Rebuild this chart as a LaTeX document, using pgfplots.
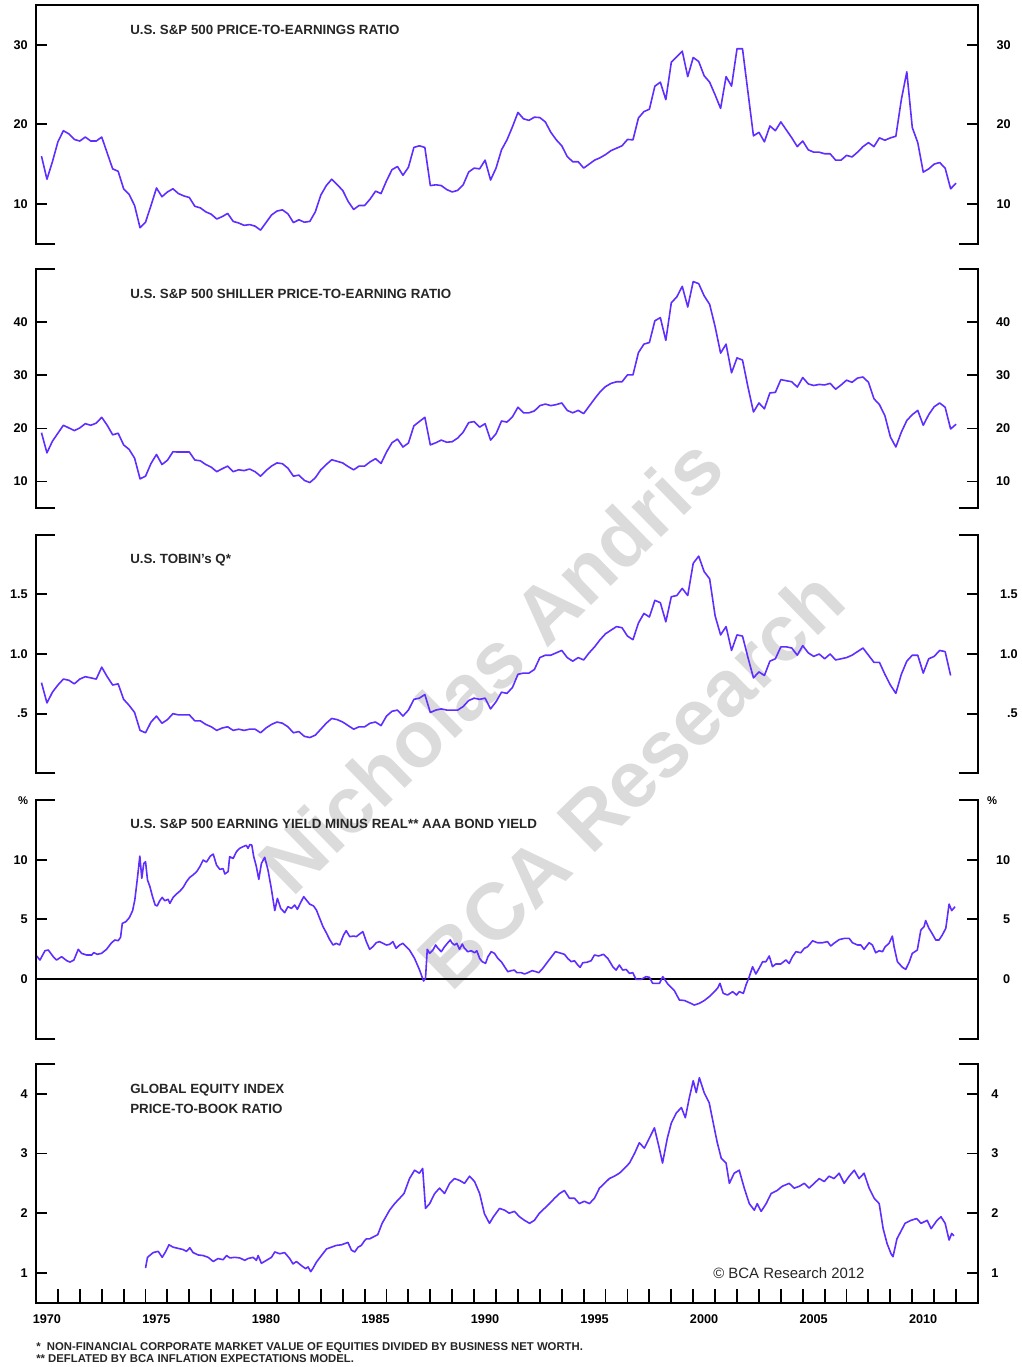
\documentclass[border=0pt]{standalone}
\usepackage{pgfplots}
\pgfplotsset{compat=1.18}
\usepackage{pgfplotstable}
\usepackage{fontspec}
\setmainfont{Liberation Sans}
\definecolor{ln}{RGB}{95,45,255}

\pgfplotstableread{
x y
1970.25 16.0
1970.5 13.1
1970.75 15.3
1971.0 17.8
1971.25 19.2
1971.5 18.8
1971.75 18.1
1972.0 17.9
1972.25 18.4
1972.5 17.9
1972.75 17.9
1973.0 18.4
1973.25 16.4
1973.5 14.4
1973.75 14.1
1974.0 11.9
1974.25 11.2
1974.5 9.8
1974.75 7.0
1975.0 7.7
1975.25 9.8
1975.5 12.0
1975.75 10.9
1976.0 11.5
1976.25 11.9
1976.5 11.3
1976.75 11.0
1977.0 10.8
1977.25 9.7
1977.5 9.5
1977.75 9.0
1978.0 8.7
1978.25 8.1
1978.5 8.4
1978.75 8.8
1979.0 7.8
1979.25 7.6
1979.5 7.3
1979.75 7.4
1980.0 7.2
1980.25 6.7
1980.5 7.65
1980.75 8.6
1981.0 9.1
1981.25 9.25
1981.5 8.75
1981.75 7.65
1982.0 8.0
1982.25 7.7
1982.5 7.8
1982.75 9.0
1983.0 11.1
1983.25 12.3
1983.5 13.1
1983.75 12.4
1984.0 11.7
1984.25 10.3
1984.5 9.3
1984.75 9.8
1985.0 9.8
1985.25 10.6
1985.5 11.6
1985.75 11.3
1986.0 12.9
1986.25 14.3
1986.5 14.7
1986.75 13.6
1987.0 14.6
1987.25 17.1
1987.5 17.3
1987.75 17.1
1988.0 12.3
1988.25 12.4
1988.5 12.3
1988.75 11.8
1989.0 11.5
1989.25 11.7
1989.5 12.4
1989.75 14.0
1990.0 14.5
1990.25 14.4
1990.5 15.5
1990.75 13.0
1991.0 14.5
1991.25 16.8
1991.5 18.05
1991.75 19.7
1992.0 21.5
1992.25 20.7
1992.5 20.5
1992.75 20.9
1993.0 20.85
1993.25 20.3
1993.5 19.0
1993.75 18.05
1994.0 17.3
1994.25 15.95
1994.5 15.3
1994.75 15.3
1995.0 14.5
1995.25 15.0
1995.5 15.5
1995.75 15.8
1996.0 16.2
1996.25 16.7
1996.5 17.0
1996.75 17.3
1997.0 18.1
1997.25 18.05
1997.5 20.8
1997.75 21.6
1998.0 21.9
1998.25 24.8
1998.5 25.3
1998.75 23.1
1999.0 27.8
1999.25 28.5
1999.5 29.2
1999.75 26.0
2000.0 28.4
2000.25 27.9
2000.5 26.1
2000.75 25.3
2001.0 23.7
2001.25 22.0
2001.5 26.0
2001.75 24.8
2002.0 29.5
2002.25 29.5
2002.75 18.55
2003.0 19.0
2003.25 17.8
2003.5 19.8
2003.75 19.2
2004.0 20.3
2004.25 19.3
2004.5 18.3
2004.75 17.2
2005.0 17.9
2005.25 16.8
2005.5 16.5
2005.75 16.5
2006.0 16.3
2006.25 16.3
2006.5 15.5
2006.75 15.5
2007.0 16.1
2007.25 15.9
2007.5 16.5
2007.75 17.2
2008.0 17.7
2008.25 17.2
2008.5 18.3
2008.75 18.0
2009.0 18.3
2009.25 18.5
2009.5 23.1
2009.75 26.6
2010.0 19.6
2010.25 17.7
2010.5 14.0
2010.75 14.4
2011.0 15.0
2011.25 15.2
2011.5 14.5
2011.75 11.9
2012.0 12.6
}\pe

\pgfplotstableread{
x y
1970.25 19.2
1970.5 15.4
1970.75 17.6
1971.0 19.1
1971.25 20.6
1971.5 20.1
1971.75 19.6
1972.0 20.1
1972.25 20.9
1972.5 20.6
1972.75 21.0
1973.0 22.1
1973.25 20.6
1973.5 18.8
1973.75 19.1
1974.0 16.9
1974.25 16.05
1974.5 14.4
1974.75 10.5
1975.0 11.0
1975.25 13.4
1975.5 15.1
1975.75 13.2
1976.0 14.0
1976.25 15.6
1976.5 15.55
1976.75 15.55
1977.0 15.55
1977.25 14.05
1977.5 13.9
1977.75 13.2
1978.0 12.7
1978.25 11.85
1978.5 12.4
1978.75 12.9
1979.0 11.85
1979.25 12.2
1979.5 12.05
1979.75 12.35
1980.0 11.85
1980.25 11.0
1980.5 12.05
1980.75 12.9
1981.0 13.5
1981.25 13.35
1981.5 12.5
1981.75 11.0
1982.0 11.2
1982.25 10.2
1982.5 9.8
1982.75 10.7
1983.0 12.2
1983.25 13.2
1983.5 14.1
1983.75 13.8
1984.0 13.5
1984.25 12.8
1984.5 12.2
1984.75 12.9
1985.0 12.9
1985.25 13.7
1985.5 14.3
1985.75 13.4
1986.0 15.55
1986.25 17.3
1986.5 18.0
1986.75 16.5
1987.0 17.25
1987.25 20.5
1987.5 21.3
1987.75 22.1
1988.0 16.9
1988.25 17.3
1988.5 17.8
1988.75 17.4
1989.0 17.5
1989.25 18.2
1989.5 19.3
1989.75 21.1
1990.0 21.3
1990.25 20.25
1990.5 20.9
1990.75 17.8
1991.0 19.0
1991.25 21.4
1991.5 21.2
1991.75 22.2
1992.0 24.0
1992.25 22.95
1992.5 22.95
1992.75 23.3
1993.0 24.3
1993.25 24.6
1993.5 24.3
1993.75 24.5
1994.0 24.8
1994.25 23.4
1994.5 22.95
1994.75 23.4
1995.0 22.8
1995.25 24.2
1995.5 25.6
1995.75 26.9
1996.0 27.9
1996.25 28.5
1996.5 28.8
1996.75 28.8
1997.0 30.1
1997.25 30.1
1997.5 34.3
1997.75 35.9
1998.0 36.2
1998.25 40.3
1998.5 40.9
1998.75 36.6
1999.0 43.7
1999.25 44.8
1999.5 46.8
1999.75 42.9
2000.0 47.7
2000.25 47.3
2000.5 45.0
2000.75 43.4
2001.0 39.2
2001.25 34.2
2001.5 35.9
2001.75 30.5
2002.0 33.3
2002.25 32.9
2002.5 27.8
2002.75 23.1
2003.0 24.8
2003.25 23.7
2003.5 26.7
2003.75 26.8
2004.0 29.2
2004.25 29.0
2004.5 28.8
2004.75 27.8
2005.0 29.6
2005.25 28.4
2005.5 28.1
2005.75 28.3
2006.0 28.2
2006.25 28.5
2006.5 27.4
2006.75 28.2
2007.0 29.1
2007.25 28.7
2007.5 29.5
2007.75 29.7
2008.0 28.7
2008.25 25.6
2008.5 24.5
2008.75 22.4
2009.0 18.4
2009.25 16.5
2009.5 19.3
2009.75 21.5
2010.0 22.6
2010.25 23.4
2010.5 20.6
2010.75 22.6
2011.0 24.1
2011.25 24.8
2011.5 24.0
2011.75 19.9
2012.0 20.8
}\shiller

\pgfplotstableread{
x y
1970.25 0.76
1970.5 0.59
1970.75 0.68
1971.0 0.74
1971.25 0.79
1971.5 0.78
1971.75 0.75
1972.0 0.79
1972.25 0.81
1972.5 0.80
1972.75 0.79
1973.0 0.89
1973.25 0.81
1973.5 0.74
1973.75 0.75
1974.0 0.62
1974.25 0.57
1974.5 0.51
1974.75 0.36
1975.0 0.34
1975.25 0.43
1975.5 0.48
1975.75 0.42
1976.0 0.45
1976.25 0.50
1976.5 0.49
1976.75 0.49
1977.0 0.49
1977.25 0.44
1977.5 0.44
1977.75 0.41
1978.0 0.39
1978.25 0.36
1978.5 0.38
1978.75 0.39
1979.0 0.36
1979.25 0.37
1979.5 0.36
1979.75 0.37
1980.0 0.37
1980.25 0.34
1980.5 0.38
1980.75 0.41
1981.0 0.43
1981.25 0.42
1981.5 0.39
1981.75 0.34
1982.0 0.35
1982.25 0.31
1982.5 0.30
1982.75 0.32
1983.0 0.37
1983.25 0.42
1983.5 0.46
1983.75 0.45
1984.0 0.43
1984.25 0.40
1984.5 0.37
1984.75 0.39
1985.0 0.39
1985.25 0.42
1985.5 0.43
1985.75 0.40
1986.0 0.48
1986.25 0.52
1986.5 0.53
1986.75 0.48
1987.0 0.53
1987.25 0.62
1987.5 0.63
1987.75 0.66
1988.0 0.51
1988.25 0.53
1988.5 0.54
1988.75 0.53
1989.0 0.53
1989.25 0.53
1989.5 0.56
1989.75 0.61
1990.0 0.63
1990.25 0.62
1990.5 0.63
1990.75 0.54
1991.0 0.60
1991.25 0.68
1991.5 0.67
1991.75 0.72
1992.0 0.83
1992.25 0.84
1992.5 0.84
1992.75 0.87
1993.0 0.97
1993.25 0.99
1993.5 0.99
1993.75 1.01
1994.0 1.03
1994.25 0.97
1994.5 0.94
1994.75 0.97
1995.0 0.95
1995.25 1.01
1995.5 1.06
1995.75 1.12
1996.0 1.17
1996.25 1.20
1996.5 1.23
1996.75 1.22
1997.0 1.15
1997.25 1.12
1997.5 1.26
1997.75 1.34
1998.0 1.31
1998.25 1.45
1998.5 1.43
1998.75 1.27
1999.0 1.48
1999.25 1.49
1999.5 1.55
1999.75 1.49
2000.0 1.76
2000.25 1.82
2000.5 1.69
2000.75 1.63
2001.0 1.32
2001.25 1.16
2001.5 1.23
2001.75 1.03
2002.0 1.16
2002.25 1.15
2002.5 0.97
2002.75 0.80
2003.0 0.85
2003.25 0.82
2003.5 0.94
2003.75 0.96
2004.0 1.06
2004.25 1.06
2004.5 1.05
2004.75 0.99
2005.0 1.07
2005.25 1.01
2005.5 0.98
2005.75 1.00
2006.0 0.96
2006.25 1.00
2006.5 0.95
2006.75 0.96
2007.0 0.97
2007.25 0.99
2007.5 1.02
2007.75 1.05
2008.0 0.99
2008.25 0.93
2008.5 0.93
2008.75 0.83
2009.0 0.74
2009.25 0.67
2009.5 0.83
2009.75 0.94
2010.0 0.99
2010.25 0.99
2010.5 0.84
2010.75 0.96
2011.0 0.98
2011.25 1.03
2011.5 1.02
2011.75 0.82
}\tobin

\pgfplotstableread{
x y
1970.03 1.93
1970.18 1.59
1970.41 2.37
1970.56 2.43
1970.79 1.87
1970.94 1.59
1971.17 1.87
1971.40 1.54
1971.55 1.42
1971.73 1.59
1971.93 2.49
1972.08 2.15
1972.31 2.01
1972.54 2.01
1972.64 2.21
1972.80 2.07
1972.99 2.15
1973.22 2.49
1973.45 3.04
1973.60 3.27
1973.75 3.21
1973.86 3.49
1973.94 4.66
1974.10 4.80
1974.26 5.14
1974.41 5.73
1974.51 6.62
1974.62 8.30
1974.74 10.30
1974.83 8.44
1974.92 9.69
1975.00 9.83
1975.09 8.30
1975.20 7.74
1975.32 6.90
1975.44 6.20
1975.53 6.12
1975.65 6.56
1975.76 6.84
1975.88 6.56
1976.03 6.68
1976.11 6.34
1976.26 6.84
1976.41 7.12
1976.57 7.37
1976.72 7.68
1976.87 8.16
1977.02 8.52
1977.17 8.72
1977.33 8.99
1977.48 9.41
1977.63 9.97
1977.78 9.80
1977.96 10.30
1978.09 10.47
1978.24 9.55
1978.39 9.19
1978.54 9.25
1978.62 8.80
1978.77 9.00
1978.84 10.25
1979.00 10.10
1979.15 10.67
1979.30 10.95
1979.45 11.09
1979.60 11.20
1979.68 10.95
1979.76 11.26
1979.85 11.23
1979.94 10.25
1980.06 9.41
1980.17 8.35
1980.29 9.69
1980.44 10.20
1980.59 9.13
1980.74 7.60
1980.90 5.73
1981.02 6.76
1981.17 5.92
1981.35 5.56
1981.50 6.06
1981.66 5.92
1981.81 6.20
1981.93 5.84
1982.08 6.40
1982.22 6.90
1982.34 6.62
1982.49 6.28
1982.67 6.12
1982.80 5.78
1982.95 5.08
1983.10 4.39
1983.25 3.88
1983.40 3.32
1983.56 2.85
1983.71 2.99
1983.86 2.85
1984.04 3.69
1984.16 4.05
1984.32 3.55
1984.50 3.60
1984.62 3.55
1984.77 3.77
1984.92 3.97
1985.08 3.13
1985.23 2.49
1985.38 2.71
1985.53 3.04
1985.68 3.13
1985.84 2.99
1985.99 2.85
1986.14 2.90
1986.29 3.13
1986.44 2.57
1986.60 2.85
1986.75 2.99
1986.90 2.71
1987.05 2.43
1987.28 1.73
1987.51 0.75
1987.69 -0.17
1987.78 0.06
1987.86 2.49
1987.97 2.15
1988.12 2.43
1988.24 2.85
1988.35 2.57
1988.50 2.29
1988.65 2.71
1988.80 3.04
1988.91 3.27
1989.00 2.99
1989.11 2.85
1989.21 2.99
1989.33 2.49
1989.46 2.93
1989.56 2.57
1989.71 2.29
1989.87 2.37
1990.02 2.20
1990.12 2.37
1990.25 1.73
1990.37 1.45
1990.52 1.31
1990.63 1.87
1990.78 2.29
1990.93 2.15
1991.08 1.73
1991.24 1.45
1991.39 1.03
1991.54 0.61
1991.69 0.70
1991.84 0.75
1991.95 0.53
1992.15 0.53
1992.30 0.42
1992.45 0.53
1992.65 0.70
1992.83 0.61
1992.95 0.53
1993.13 0.89
1993.36 1.45
1993.56 1.93
1993.71 2.29
1993.89 2.20
1994.12 2.07
1994.27 1.73
1994.43 1.45
1994.58 1.53
1994.73 1.17
1994.84 0.98
1994.96 1.37
1995.14 1.40
1995.34 1.53
1995.49 2.01
1995.69 1.93
1995.90 2.07
1996.10 1.73
1996.33 1.03
1996.48 0.75
1996.63 1.17
1996.78 0.75
1996.94 0.80
1997.09 0.47
1997.24 0.53
1997.39 -0.03
1997.62 -0.03
1997.85 0.20
1998.00 0.14
1998.15 -0.36
1998.46 -0.36
1998.61 0.20
1998.84 -0.42
1999.14 -0.98
1999.37 -1.76
1999.60 -1.80
1999.82 -1.98
2000.05 -2.18
2000.28 -2.04
2000.51 -1.80
2000.73 -1.48
2000.96 -1.06
2001.11 -0.78
2001.22 -0.36
2001.37 -1.20
2001.57 -1.34
2001.80 -1.06
2001.98 -1.34
2002.10 -1.06
2002.29 -1.20
2002.41 -0.50
2002.56 0.20
2002.71 1.03
2002.86 0.42
2003.01 0.90
2003.17 1.45
2003.32 1.45
2003.47 1.93
2003.62 1.03
2003.77 1.26
2004.00 1.26
2004.23 1.60
2004.38 1.30
2004.53 1.87
2004.69 2.29
2004.91 2.20
2005.07 2.57
2005.22 2.70
2005.45 3.20
2005.67 3.04
2005.90 3.04
2006.13 3.13
2006.28 2.77
2006.43 3.00
2006.66 3.30
2006.89 3.40
2007.12 3.40
2007.27 3.04
2007.50 2.85
2007.65 2.85
2007.80 2.49
2008.03 3.04
2008.18 2.85
2008.33 2.20
2008.49 2.37
2008.64 2.29
2008.76 2.70
2008.94 2.99
2009.09 3.60
2009.17 2.70
2009.32 1.45
2009.55 0.98
2009.70 0.81
2009.85 1.37
2010.00 2.15
2010.23 2.43
2010.39 4.10
2010.54 4.40
2010.61 4.90
2010.76 4.25
2010.92 3.77
2011.07 3.27
2011.22 3.27
2011.37 3.69
2011.53 4.25
2011.68 6.28
2011.80 5.73
2011.95 6.06
}\ey

\pgfplotstableread{
x y
1975.00 1.08
1975.09 1.26
1975.35 1.34
1975.58 1.36
1975.76 1.26
1975.91 1.35
1976.07 1.47
1976.26 1.43
1976.49 1.41
1976.72 1.39
1976.87 1.36
1977.02 1.42
1977.17 1.34
1977.40 1.30
1977.63 1.29
1977.86 1.26
1978.09 1.19
1978.31 1.24
1978.54 1.22
1978.70 1.29
1978.85 1.25
1979.07 1.26
1979.30 1.25
1979.53 1.21
1979.68 1.24
1979.91 1.26
1980.06 1.21
1980.14 1.29
1980.29 1.16
1980.52 1.21
1980.75 1.26
1980.90 1.35
1981.13 1.32
1981.35 1.34
1981.58 1.24
1981.73 1.15
1981.89 1.19
1982.12 1.12
1982.31 1.07
1982.42 1.10
1982.54 1.02
1982.65 1.08
1982.80 1.18
1983.03 1.29
1983.26 1.40
1983.48 1.43
1983.71 1.46
1983.94 1.47
1984.09 1.49
1984.24 1.51
1984.40 1.38
1984.55 1.35
1984.70 1.43
1984.85 1.46
1985.00 1.54
1985.08 1.57
1985.23 1.57
1985.60 1.64
1985.80 1.83
1986.14 2.05
1986.37 2.16
1986.60 2.25
1986.80 2.33
1987.05 2.58
1987.28 2.72
1987.50 2.67
1987.65 2.75
1987.78 2.08
1987.97 2.16
1988.20 2.33
1988.42 2.42
1988.65 2.33
1988.88 2.50
1989.10 2.58
1989.33 2.55
1989.56 2.50
1989.79 2.62
1990.02 2.53
1990.25 2.33
1990.47 1.99
1990.70 1.83
1990.88 1.94
1991.16 2.08
1991.39 2.05
1991.60 2.00
1991.84 2.03
1992.07 1.94
1992.30 1.88
1992.53 1.83
1992.75 1.88
1992.98 2.00
1993.21 2.08
1993.44 2.16
1993.67 2.25
1993.90 2.33
1994.12 2.38
1994.35 2.25
1994.58 2.25
1994.80 2.16
1995.03 2.20
1995.26 2.16
1995.49 2.25
1995.72 2.42
1995.95 2.50
1996.17 2.58
1996.40 2.62
1996.63 2.67
1996.86 2.75
1997.09 2.84
1997.32 3.00
1997.54 3.18
1997.77 3.09
1998.00 3.26
1998.23 3.43
1998.45 3.09
1998.60 2.84
1998.82 3.26
1999.00 3.51
1999.23 3.68
1999.46 3.77
1999.64 3.60
1999.82 3.93
2000.00 4.22
2000.14 4.02
2000.28 4.27
2000.50 4.02
2000.73 3.85
2000.96 3.43
2001.10 3.18
2001.28 2.92
2001.50 2.84
2001.65 2.50
2001.87 2.67
2002.10 2.72
2002.33 2.42
2002.56 2.16
2002.79 2.05
2002.92 2.16
2003.10 2.03
2003.33 2.16
2003.56 2.33
2003.83 2.38
2004.06 2.45
2004.38 2.50
2004.61 2.42
2004.84 2.45
2005.07 2.50
2005.29 2.42
2005.52 2.50
2005.75 2.58
2005.98 2.53
2006.20 2.62
2006.43 2.58
2006.66 2.67
2006.89 2.50
2007.12 2.62
2007.35 2.72
2007.57 2.58
2007.80 2.67
2008.03 2.42
2008.26 2.25
2008.49 2.16
2008.67 1.74
2008.85 1.49
2009.03 1.32
2009.12 1.27
2009.30 1.57
2009.50 1.71
2009.67 1.83
2009.94 1.88
2010.20 1.91
2010.40 1.83
2010.68 1.88
2010.86 1.74
2011.13 1.88
2011.31 1.94
2011.50 1.83
2011.68 1.55
2011.80 1.66
2011.90 1.62
}\pb

\tikzset{
  frm/.style={line width=1.4pt, black, line join=miter},
  ttl/.style={anchor=base west, inner sep=0pt, font=\fontsize{10}{11}\selectfont\bfseries, text=black!85},
}
\pgfplotsset{
  panel/.style={
    scale only axis, width=706.5pt, height=179pt,
    xmin=1970, xmax=2013,
    axis line style={draw=none},
    xtick=\empty,
    tick align=inside,
    major tick length=8pt,
    tick style={line width=1.4pt, black},
    clip=false,
    anchor=north west,
    yticklabel style={font=\fontsize{9.5}{11}\selectfont\bfseries, inner sep=0pt},
  },
  leftax/.style={panel, ytick pos=left, yticklabel pos=left,
    yticklabel style={anchor=east, xshift=-6pt}},
  rightax/.style={panel, ytick pos=right, yticklabel pos=right,
    yticklabel style={anchor=east, xshift=#1}},
  ser/.style={color=ln, line width=1.2pt, no markers, line join=round},
}

\begin{document}
\begin{tikzpicture}
\useasboundingbox (0,0) rectangle (765.75pt,-1025.25pt);

% watermark
\node[rotate=44.3, text=black!14, font=\fontsize{60}{60}\selectfont\bfseries] at (367.5pt,-498.75pt) {Nicholas Andris};
\node[rotate=44.3, text=black!14, font=\fontsize{60}{60}\selectfont\bfseries] at (473pt,-584pt) {BCA Research};

% ---------- Panel 1
\begin{axis}[leftax, at={(27pt,-3.75pt)}, ymin=5, ymax=35, ytick={10,20,30}, yticklabels={10,20,30}]
\addplot[ser] table {\pe};
\draw[frm] ([xshift=14.5pt]rel axis cs:0,0) -- (rel axis cs:0,0) -- (rel axis cs:0,1) -- (rel axis cs:1,1) -- (rel axis cs:1,0) -- ([xshift=-14.5pt]rel axis cs:1,0);
\node[ttl] at ([xshift=70.5pt,yshift=-21.75pt]rel axis cs:0,1) {U.S. S\&P 500 PRICE-TO-EARNINGS RATIO};
\end{axis}
\begin{axis}[rightax=24.75pt, at={(27pt,-3.75pt)}, ymin=5, ymax=35, ytick={10,20,30}, yticklabels={10,20,30}]
\end{axis}

% ---------- Panel 2
\begin{axis}[leftax, at={(27pt,-202pt)}, ymin=5, ymax=50, ytick={10,20,30,40}, yticklabels={10,20,30,40}]
\addplot[ser] table {\shiller};
\draw[frm] ([xshift=14.5pt]rel axis cs:0,0) -- (rel axis cs:0,0) -- (rel axis cs:0,1) -- ([xshift=14.5pt]rel axis cs:0,1);
\draw[frm] ([xshift=-14.5pt]rel axis cs:1,0) -- (rel axis cs:1,0) -- (rel axis cs:1,1) -- ([xshift=-14.5pt]rel axis cs:1,1);
\node[ttl] at ([xshift=70.5pt,yshift=-21.75pt]rel axis cs:0,1) {U.S. S\&P 500 SHILLER PRICE-TO-EARNING RATIO};
\end{axis}
\begin{axis}[rightax=24.4pt, at={(27pt,-202pt)}, ymin=5, ymax=50, ytick={10,20,30,40}, yticklabels={10,20,30,40}]
\end{axis}

% ---------- Panel 3
\begin{axis}[leftax, at={(27pt,-401pt)}, ymin=0, ymax=2, ytick={0.5,1,1.5}, yticklabels={.5,1.0,1.5}]
\addplot[ser] table {\tobin};
\draw[frm] ([xshift=14.5pt]rel axis cs:0,0) -- (rel axis cs:0,0) -- (rel axis cs:0,1) -- ([xshift=14.5pt]rel axis cs:0,1);
\draw[frm] ([xshift=-14.5pt]rel axis cs:1,0) -- (rel axis cs:1,0) -- (rel axis cs:1,1) -- ([xshift=-14.5pt]rel axis cs:1,1);
\node[ttl] at ([xshift=70.5pt,yshift=-21.75pt]rel axis cs:0,1) {U.S. TOBIN's Q*};
\end{axis}
\begin{axis}[rightax=30pt, at={(27pt,-401pt)}, ymin=0, ymax=2, ytick={0.5,1,1.5}, yticklabels={.5,1.0,1.5}]
\end{axis}

% ---------- Panel 4
\begin{axis}[leftax, at={(27pt,-600pt)}, ymin=-5, ymax=15, ytick={0,5,10}, yticklabels={0,5,10}]
\draw[line width=1.2pt, black] (axis cs:1970,0) -- (axis cs:2013,0);
\addplot[ser] table {\ey};
\draw[frm] ([xshift=14.5pt]rel axis cs:0,0) -- (rel axis cs:0,0) -- (rel axis cs:0,1) -- ([xshift=14.5pt]rel axis cs:0,1);
\draw[frm] ([xshift=-14.5pt]rel axis cs:1,0) -- (rel axis cs:1,0) -- (rel axis cs:1,1) -- ([xshift=-14.5pt]rel axis cs:1,1);
\node[ttl] at ([xshift=70.5pt,yshift=-21pt]rel axis cs:0,1) {U.S. S\&P 500 EARNING YIELD MINUS REAL** AAA BOND YIELD};
\node[font=\fontsize{8.4}{9}\selectfont\bfseries] at ([xshift=-9.75pt,yshift=-0.75pt]rel axis cs:0,1) {\%};
\node[font=\fontsize{8.4}{9}\selectfont\bfseries] at ([xshift=10.5pt,yshift=-0.75pt]rel axis cs:1,1) {\%};
\end{axis}
\begin{axis}[rightax=24.4pt, at={(27pt,-600pt)}, ymin=-5, ymax=15, ytick={0,5,10}, yticklabels={0,5,10}]
\end{axis}

% ---------- Panel 5
\begin{axis}[leftax, at={(27pt,-798pt)}, ymin=0.5, ymax=4.5, ytick={1,2,3,4}, yticklabels={1,2,3,4},
  xtick={1970,...,2012},
  xticklabels={1970,,,,,1975,,,,,1980,,,,,1985,,,,,1990,,,,,1995,,,,,2000,,,,,2005,,,,,2010,,},
  xtick pos=bottom, xticklabel pos=bottom,
  xtick style={/pgfplots/major tick length=10pt},
  xticklabel style={font=\fontsize{9.5}{11}\selectfont\bfseries, inner sep=0pt, anchor=north, xshift=8.2pt, yshift=-9pt}]
\addplot[ser] table {\pb};
\draw[frm] ([xshift=14.5pt]rel axis cs:0,1) -- (rel axis cs:0,1) -- (rel axis cs:0,0) -- (rel axis cs:1,0) -- (rel axis cs:1,1) -- ([xshift=-14.5pt]rel axis cs:1,1);
\node[ttl] at ([xshift=70.5pt,yshift=-21.75pt]rel axis cs:0,1) {GLOBAL EQUITY INDEX};
\node[ttl] at ([xshift=70.5pt,yshift=-36.75pt]rel axis cs:0,1) {PRICE-TO-BOOK RATIO};
\end{axis}
\begin{axis}[rightax=15.5pt, at={(27pt,-798pt)}, ymin=0.5, ymax=4.5, ytick={1,2,3,4}, yticklabels={1,2,3,4}]
\end{axis}

\node[anchor=base west, inner sep=0pt, font=\fontsize{11.2}{12}\selectfont, text=black!85] at (534.75pt,-958.5pt) {\textcopyright\ BCA Research 2012};
\node[anchor=base west, inner sep=0pt, font=\fontsize{8.5}{9}\selectfont\bfseries, text=black!85] at (27pt,-1012.5pt) {*\ \ NON-FINANCIAL CORPORATE MARKET VALUE OF EQUITIES DIVIDED BY BUSINESS NET WORTH.};
\node[anchor=base west, inner sep=0pt, font=\fontsize{8.5}{9}\selectfont\bfseries, text=black!85] at (27pt,-1021.5pt) {** DEFLATED BY BCA INFLATION EXPECTATIONS MODEL.};
\end{tikzpicture}
\end{document}
